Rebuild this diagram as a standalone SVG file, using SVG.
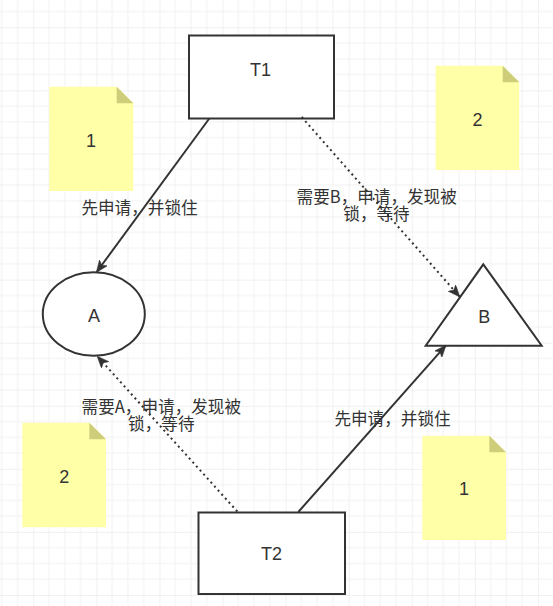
<svg xmlns="http://www.w3.org/2000/svg" width="553" height="606" viewBox="0 0 553 606">
<style>
.shape{fill:#ffffff;stroke:#333333;stroke-width:2}
.note{fill:#ffffa8}
.fold{fill:#cdcd7a}
.lbl{font-family:"Liberation Sans","Noto Sans CJK SC",sans-serif;font-size:18px;fill:#333333;text-anchor:middle}
.elbl{font-family:"Noto Sans CJK SC","Noto Sans",sans-serif;font-size:16.6px;fill:#333333;text-anchor:middle}
.edge{fill:none;stroke:#333333;stroke-width:2}
.dot{stroke-dasharray:2 3.4}
</style>
<defs>
<pattern id="grid" patternUnits="userSpaceOnUse" x="33.3" y="27.3" width="63.08" height="63.08">
<rect x="15.27" y="0" width="1" height="63.08" fill="#f2f2f2"/>
<rect x="31.04" y="0" width="1" height="63.08" fill="#f2f2f2"/>
<rect x="46.81" y="0" width="1" height="63.08" fill="#f2f2f2"/>
<rect x="0" y="15.27" width="63.08" height="1" fill="#f2f2f2"/>
<rect x="0" y="31.04" width="63.08" height="1" fill="#f2f2f2"/>
<rect x="0" y="46.81" width="63.08" height="1" fill="#f2f2f2"/>
<rect x="-0.5" y="0" width="1" height="63.08" fill="#e4e4e4"/>
<rect x="0" y="-0.5" width="63.08" height="1" fill="#e4e4e4"/>
</pattern>
<marker id="arr" viewBox="0 0 12 10" markerWidth="12" markerHeight="10" refX="11.5" refY="5" orient="auto" markerUnits="userSpaceOnUse">
<path d="M0,0 L12,5 L0,10 L3,5 Z" fill="#333333" stroke="#333333" stroke-width="0.5"/>
</marker>
</defs>
<rect width="553" height="606" fill="#ffffff"/>
<rect width="553" height="606" fill="url(#grid)"/>

<g id="note1-top">
<path class="note" d="M49.3,86.7 L116.7,86.7 L133.3,103.3 L133.3,191 L49.3,191 Z"/>
<path class="fold" d="M116.7,86.7 L133.3,103.3 L116.7,103.3 Z"/>
<text class="lbl" x="91" y="146.7">1</text>
</g>
<g id="note2-top">
<path class="note" d="M435.7,65.7 L502.7,65.7 L519.3,82.3 L519.3,170 L435.7,170 Z"/>
<path class="fold" d="M502.7,65.7 L519.3,82.3 L502.7,82.3 Z"/>
<text class="lbl" x="477.5" y="126">2</text>
</g>
<g id="note2-bottom">
<path class="note" d="M22.3,422.7 L89.4,422.7 L106,439.3 L106,527.3 L22.3,527.3 Z"/>
<path class="fold" d="M89.4,422.7 L106,439.3 L89.4,439.3 Z"/>
<text class="lbl" x="64.3" y="482.7">2</text>
</g>
<g id="note1-bottom">
<path class="note" d="M422.3,435.7 L489.4,435.7 L506,452.3 L506,540 L422.3,540 Z"/>
<path class="fold" d="M489.4,435.7 L506,452.3 L489.4,452.3 Z"/>
<text class="lbl" x="464" y="495">1</text>
</g>

<g id="T1">
<rect class="shape" x="189" y="35.5" width="145" height="83"/>
<text class="lbl" x="260.5" y="76">T1</text>
</g>
<g id="T2">
<rect class="shape" x="198.5" y="512.5" width="146.5" height="81.5"/>
<text class="lbl" x="271.5" y="560">T2</text>
</g>
<g id="A">
<ellipse class="shape" cx="93.8" cy="314" rx="51" ry="41.7"/>
<text class="lbl" x="94" y="321.5">A</text>
</g>
<g id="B">
<path class="shape" d="M483.3,264.3 L541.7,345.7 L425.7,345.7 Z"/>
<text class="lbl" x="484.2" y="323.3">B</text>
</g>

<g id="connectors">
<path class="edge" d="M209.3,118.5 L96.7,272" marker-end="url(#arr)"/>
<path class="edge dot" d="M301.7,117 L459.5,296.5" marker-end="url(#arr)"/>
<path class="edge" d="M298.3,512 L445.7,345.7" marker-end="url(#arr)"/>
<path class="edge dot" d="M237.3,511.5 L97.5,356.5" marker-end="url(#arr)"/>
<text class="elbl" x="139.5" y="213.9">先申请，并锁住</text>
<text class="elbl" x="376.7" y="202.6">需要B，申请，发现被</text>
<text class="elbl" x="376.5" y="220">锁，等待</text>
<text class="elbl" x="161.3" y="412.6">需要A，申请，发现被</text>
<text class="elbl" x="161.3" y="430">锁，等待</text>
<text class="elbl" x="392.5" y="424.7">先申请，并锁住</text>
</g>
</svg>
